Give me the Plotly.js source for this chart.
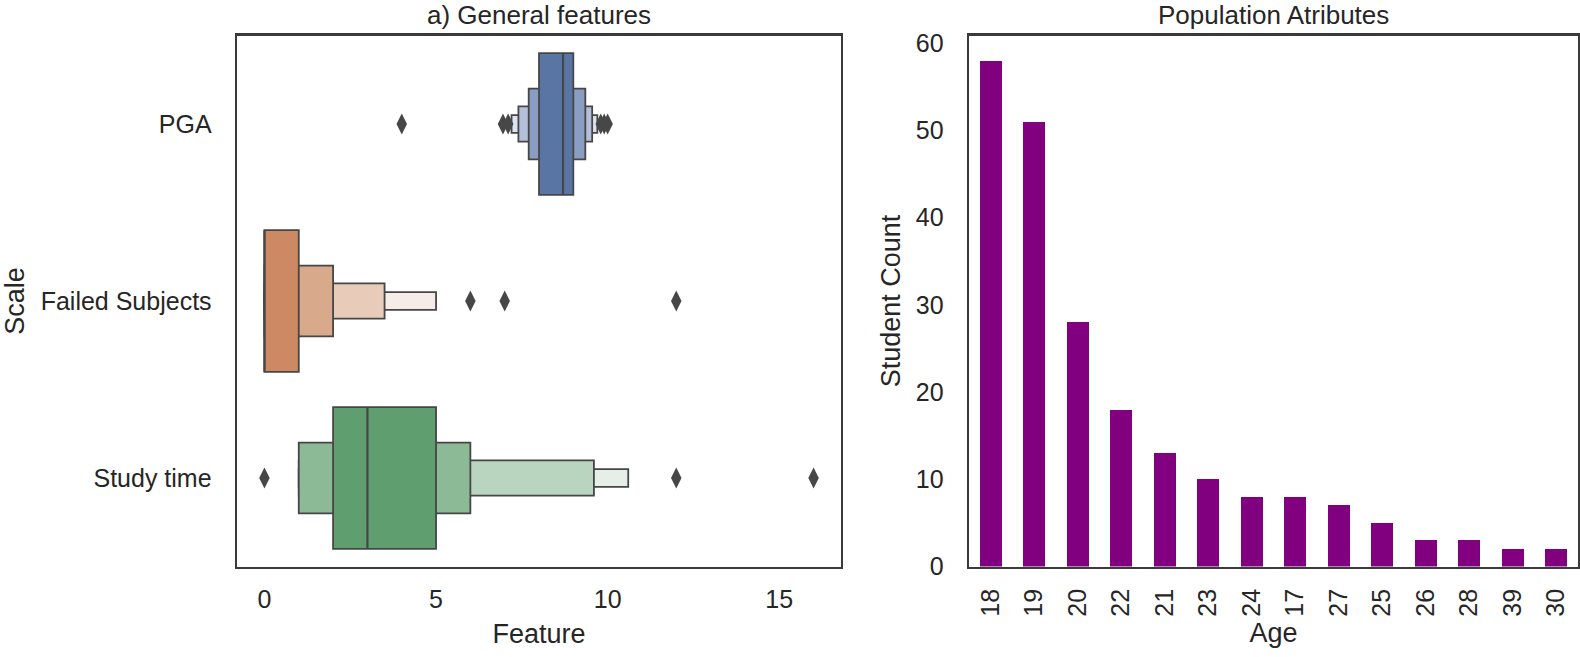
<!DOCTYPE html>
<html>
<head>
<meta charset="utf-8">
<script src="https://cdn.plot.ly/plotly-3.0.1.min.js"></script>
<style>html,body{margin:0;padding:0;background:#fff;}#chart{width:1580px;height:657px;}</style>
</head>
<body>
<div id="chart"></div>
<script>
// ---- Left panel: letter-value (boxen) plot ----
const categories = ['PGA', 'Failed Subjects', 'Study time'];
// letter values per level (level 1 = quartiles, then eighths, sixteenths, ...)
const pgaLow = [8.0, 7.7, 7.4, 7.2];
const pgaHigh = [9.0, 9.35, 9.55, 9.7];
const failedLow = [0, 0, 0, 0];
const failedHigh = [1, 2, 3.5, 5];
const studyLow = [2, 1, 1, 1];
const studyHigh = [5, 6, 9.6, 10.6];
const medians = [8.7, 0, 3];
const pgaOutliers = [4, 6.95, 7.1, 9.8, 9.9, 10.0];
const failedOutliers = [6, 7, 12];
const studyOutliers = [0, 12, 16];

// ---- Right panel: age counts ----
const ages = ['18', '19', '20', '22', '21', '23', '24', '17', '27', '25', '26', '28', '39', '30'];
const studentCounts = [58, 51, 28, 18, 13, 10, 8, 8, 7, 5, 3, 3, 2, 2];

// styles
const levelColors = [
  ['#5975a4', '#cc8963', '#5f9e6e'],
  ['#8a9dc3', '#d9a98b', '#8dba96'],
  ['#b4c0d9', '#e8cbb9', '#bad5bf'],
  ['#dde3ee', '#f5ece7', '#e5efe7']
];
const levelHeights = [0.8, 0.4, 0.2, 0.1];
const edge = '#464646';
const FONT = 'Liberation Sans, Arial, sans-serif';
const TXT = '#262626';
const TICK = 25, AX = 27, TTL = 26;

const lows = [pgaLow, failedLow, studyLow];
const highs = [pgaHigh, failedHigh, studyHigh];
const catIdx = [0, 1, 2];

const traces = [];
// draw outermost level first so inner (taller) boxes cover it
for (let lv = 3; lv >= 0; lv--) {
  traces.push({
    type: 'bar', orientation: 'h', xaxis: 'x', yaxis: 'y',
    y: catIdx,
    base: catIdx.map(i => lows[i][lv]),
    x: catIdx.map(i => highs[i][lv] - lows[i][lv]),
    width: levelHeights[lv],
    marker: { color: levelColors[lv], line: { color: edge, width: 1.8 } },
    hoverinfo: 'skip', showlegend: false
  });
}
// median lines
const mx = [], my = [];
catIdx.forEach(i => {
  mx.push(medians[i], medians[i], null);
  my.push(i - levelHeights[0] / 2, i + levelHeights[0] / 2, null);
});
traces.push({
  type: 'scatter', mode: 'lines', xaxis: 'x', yaxis: 'y',
  x: mx, y: my, line: { color: edge, width: 2.2 }, hoverinfo: 'skip', showlegend: false
});
// outliers
const outs = [pgaOutliers, failedOutliers, studyOutliers];
const ox = [], oy = [];
outs.forEach((arr, i) => arr.forEach(v => { ox.push(v); oy.push(i); }));
traces.push({
  type: 'scatter', mode: 'markers', xaxis: 'x', yaxis: 'y',
  x: ox, y: oy,
  marker: { symbol: 'diamond-tall', size: 15, color: '#474747', line: { width: 0 } },
  showlegend: false
});

// right bar chart
traces.push({
  type: 'bar', xaxis: 'x2', yaxis: 'y2',
  x: ages, y: studentCounts, width: 0.5,
  marker: { color: '#800080', line: { width: 0 } },
  showlegend: false
});

const axisCommon = {
  showline: true, mirror: true, linecolor: '#3a3a3a', linewidth: 2.4,
  showgrid: false, zeroline: false, ticks: '',
  tickfont: { family: FONT, size: TICK, color: TXT },
  automargin: false
};

const layout = {
  width: 1580, height: 657,
  margin: { l: 0, r: 0, t: 0, b: 0 },
  paper_bgcolor: '#fff', plot_bgcolor: '#fff',
  barmode: 'overlay',
  bargap: 0,
  font: { family: FONT, color: TXT },
  xaxis: Object.assign({}, axisCommon, {
    domain: [237 / 1580, 841 / 1580], anchor: 'y',
    range: [-0.8, 16.8], tickvals: [0, 5, 10, 15],
    ticklabelstandoff: 9,
    title: { text: 'Feature', font: { family: FONT, size: AX, color: TXT }, standoff: 12 }
  }),
  yaxis: Object.assign({}, axisCommon, {
    domain: [1 - 566.5 / 657, 1 - 35.5 / 657], anchor: 'x',
    range: [2.5, -0.5], tickvals: catIdx, ticktext: categories,
    ticklabelstandoff: 18,
    title: { text: 'Scale', font: { family: FONT, size: AX, color: TXT }, standoff: 10 }
  }),
  xaxis2: Object.assign({}, axisCommon, {
    domain: [969 / 1580, 1578 / 1580], anchor: 'y2',
    type: 'category', range: [-0.5, 13.5], tickangle: -90,
    ticklabelstandoff: 10,
    title: { text: 'Age', font: { family: FONT, size: AX, color: TXT }, standoff: 8 }
  }),
  yaxis2: Object.assign({}, axisCommon, {
    domain: [1 - 566.5 / 657, 1 - 35.5 / 657], anchor: 'x2',
    range: [0, 60.9], dtick: 10,
    ticklabelstandoff: 18,
    title: { text: 'Student Count', font: { family: FONT, size: AX, color: TXT }, standoff: 8 }
  }),
  annotations: [
    { text: 'a) General features', xref: 'paper', yref: 'paper', x: (237 + 841) / 2 / 1580, y: 1 - 15 / 657,
      xanchor: 'center', yanchor: 'middle', showarrow: false, font: { family: FONT, size: TTL, color: TXT } },
    { text: 'Population Atributes', xref: 'paper', yref: 'paper', x: (969 + 1578) / 2 / 1580, y: 1 - 15 / 657,
      xanchor: 'center', yanchor: 'middle', showarrow: false, font: { family: FONT, size: TTL, color: TXT } }
  ]
};

Plotly.newPlot('chart', traces, layout, { displayModeBar: false, staticPlot: true });
</script>
</body>
</html>
